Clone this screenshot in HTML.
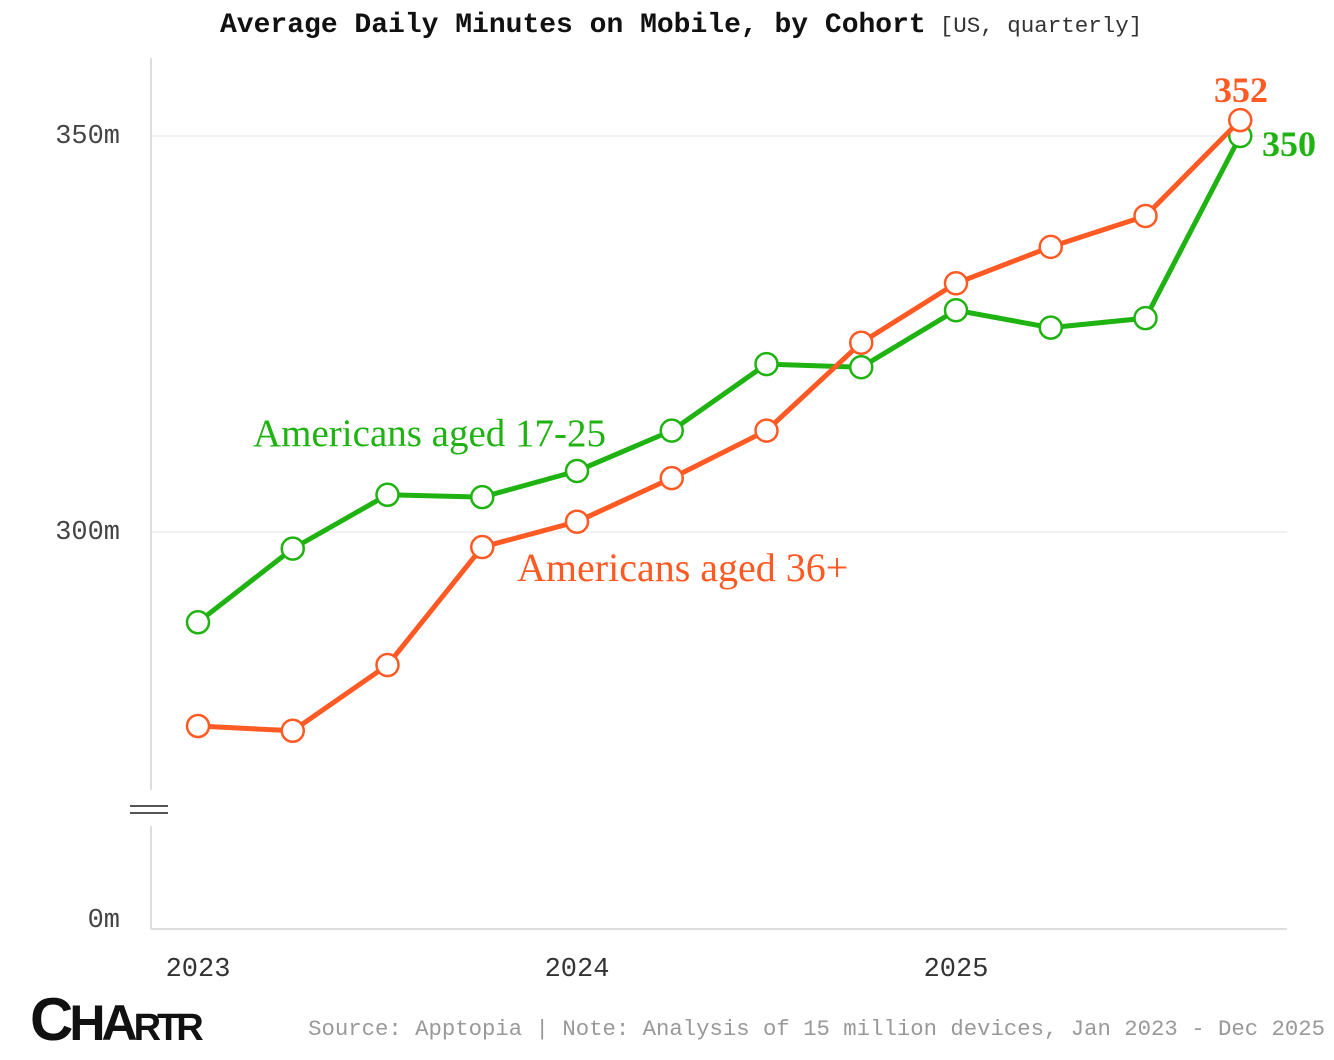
<!DOCTYPE html>
<html><head><meta charset="utf-8"><style>
body{margin:0;background:#fff;width:1334px;height:1060px;overflow:hidden}
svg{display:block}
.mono{font-family:"Liberation Mono",monospace}
.serif{font-family:"Liberation Serif",serif}
</style></head><body>
<svg id="chart" width="1334" height="1060">
<text class="mono" x="220" y="32"><tspan font-size="28" font-weight="bold" fill="#111">Average Daily Minutes on Mobile, by Cohort</tspan><tspan font-size="22.5" fill="#333" dx="14">[US, quarterly]</tspan></text>
<g id="grid"></g>
<line x1="151" y1="58" x2="151" y2="790" stroke="#ddd" stroke-width="2"/>
<line x1="151" y1="826" x2="151" y2="929" stroke="#ddd" stroke-width="2"/>
<line x1="130" y1="806" x2="168" y2="806" stroke="#555" stroke-width="2"/>
<line x1="130" y1="813" x2="168" y2="813" stroke="#555" stroke-width="2"/>
<line x1="151" y1="929" x2="1287" y2="929" stroke="#ddd" stroke-width="2"/>
<text class="mono" x="120" y="920" text-anchor="end" font-size="27" fill="#444" dominant-baseline="middle">0m</text>
<g id="yticks"></g>
<g id="xticks"></g>
<g id="series"></g>
<text class="serif" x="253" y="446" font-size="39" fill="#1fb311">Americans aged 17-25</text>
<text class="serif" x="517" y="581" font-size="40" fill="#ff5a24">Americans aged 36+</text>
<text class="serif" x="1241" y="102" text-anchor="middle" font-size="36" font-weight="bold" fill="#ff5a24">352</text>
<text class="serif" x="1262" y="156" font-size="36" font-weight="bold" fill="#1fb311">350</text>
<text x="30" y="1040" font-family="Liberation Sans,sans-serif" font-weight="bold" font-size="60" fill="#111" letter-spacing="-4">C<tspan font-size="50">HA</tspan><tspan font-size="38">RTR</tspan></text>
<text class="mono" x="1325" y="1035" text-anchor="end" font-size="22.3" fill="#999">Source: Apptopia | Note: Analysis of 15 million devices, Jan 2023 - Dec 2025</text>
</svg>
<script>
const quarters=["Q1 23","Q2 23","Q3 23","Q4 23","Q1 24","Q2 24","Q3 24","Q4 24","Q1 25","Q2 25","Q3 25","Q4 25"];
const young=[288.6,297.9,304.7,304.4,307.7,312.8,321.2,320.8,328.0,325.8,327.0,350];
const older=[275.5,274.9,283.2,298.1,301.3,306.8,312.8,323.9,331.4,336.0,339.9,352];
const yTicks=[300,350];
const yTickLabels=["300m","350m"];
const xYears=["2023","2024","2025"];
const NS="http://www.w3.org/2000/svg";
const xs=i=>198+i*94.75;
const ys=v=>136+(350-v)*7.92;
function mk(t,a,p){const e=document.createElementNS(NS,t);for(const k in a)e.setAttribute(k,a[k]);p.appendChild(e);return e;}
const grid=document.getElementById('grid'),yt=document.getElementById('yticks'),xt=document.getElementById('xticks'),sg=document.getElementById('series');
yTicks.forEach((v,i)=>{
 const l=mk('line',{x1:152,x2:1287,y1:ys(v),y2:ys(v),stroke:'#f2f2f2','stroke-width':2},grid);
 
 
 const t=mk('text',{x:120,y:ys(v),'text-anchor':'end','dominant-baseline':'middle','font-size':27,fill:'#444',class:'mono'},yt);
 t.textContent=yTickLabels[i];
 
 
});
xYears.forEach((y,i)=>{
 const t=mk('text',{x:xs(i*4),y:976,'text-anchor':'middle','font-size':27,fill:'#333',class:'mono'},xt);
 t.textContent=y;
 
 
});
function draw(vals,color,name){
 const p=mk('polyline',{points:vals.map((v,i)=>xs(i)+','+ys(v)).join(' '),fill:'none',stroke:color,'stroke-width':5,'stroke-linejoin':'round'},sg);
 
 
 vals.forEach((v,i)=>{
  const c=mk('circle',{cx:xs(i),cy:ys(v),r:11,fill:'#fff',stroke:color,'stroke-width':2.5},sg);
  
  
 });
}
draw(young,'#1fb311','series-17-25');
draw(older,'#ff5a24','series-36plus');
</script>
</body></html>
